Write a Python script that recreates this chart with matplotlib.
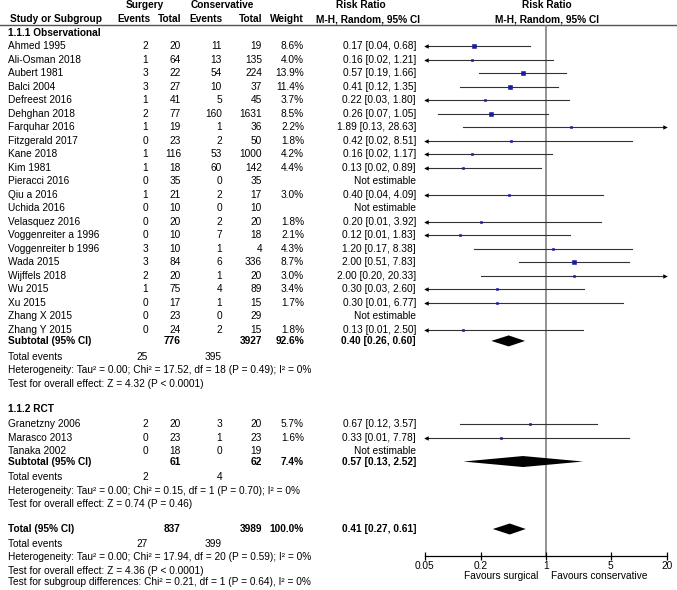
import numpy as np
import matplotlib
matplotlib.use('Agg')
import matplotlib.pyplot as plt
from matplotlib.ticker import NullLocator

plt.rcParams['font.family'] = ['Liberation Sans', 'DejaVu Sans']
FS = 7.3

# ---- data: 1.1.1 Observational
obs_names = ['Ahmed 1995', 'Ali-Osman 2018', 'Aubert 1981', 'Balci 2004', 'Defreest 2016',
             'Dehghan 2018', 'Farquhar 2016', 'Fitzgerald 2017', 'Kane 2018', 'Kim 1981',
             'Pieracci 2016', 'Qiu a 2016', 'Uchida 2016', 'Velasquez 2016',
             'Voggenreiter a 1996', 'Voggenreiter b 1996', 'Wada 2015', 'Wijffels 2018',
             'Wu 2015', 'Xu 2015', 'Zhang X 2015', 'Zhang Y 2015']
obs_ev_s = [2, 1, 3, 3, 1, 2, 1, 0, 1, 1, 0, 1, 0, 0, 0, 3, 3, 2, 1, 0, 0, 0]
obs_tot_s = [20, 64, 22, 27, 41, 77, 19, 23, 116, 18, 35, 21, 10, 20, 10, 10, 84, 20, 75, 17, 23, 24]
obs_ev_c = [11, 13, 54, 10, 5, 160, 1, 2, 53, 60, 0, 2, 0, 2, 7, 1, 6, 1, 4, 1, 0, 2]
obs_tot_c = [19, 135, 224, 37, 45, 1631, 36, 50, 1000, 142, 35, 17, 10, 20, 18, 4, 336, 20, 89, 15, 29, 15]
nan = np.nan
obs_w = [8.6, 4.0, 13.9, 11.4, 3.7, 8.5, 2.2, 1.8, 4.2, 4.4, nan, 3.0, nan, 1.8, 2.1, 4.3, 8.7, 3.0, 3.4, 1.7, nan, 1.8]
obs_rr = [0.17, 0.16, 0.57, 0.41, 0.22, 0.26, 1.89, 0.42, 0.16, 0.13, nan, 0.40, nan, 0.20, 0.12, 1.20, 2.00, 2.00, 0.30, 0.30, nan, 0.13]
obs_lo = [0.04, 0.02, 0.19, 0.12, 0.03, 0.07, 0.13, 0.02, 0.02, 0.02, nan, 0.04, nan, 0.01, 0.01, 0.17, 0.51, 0.20, 0.03, 0.01, nan, 0.01]
obs_hi = [0.68, 1.21, 1.66, 1.35, 1.80, 1.05, 28.63, 8.51, 1.17, 0.89, nan, 4.09, nan, 3.92, 1.83, 8.38, 7.83, 20.33, 2.60, 6.77, nan, 2.50]
obs_sub = [0.40, 0.26, 0.60]
obs_totals = [776, 3927, 92.6]
obs_events = [25, 395]
obs_het = 'Heterogeneity: Tau² = 0.00; Chi² = 17.52, df = 18 (P = 0.49); I² = 0%'
obs_test = 'Test for overall effect: Z = 4.32 (P < 0.0001)'

# ---- data: 1.1.2 RCT
rct_names = ['Granetzny 2006', 'Marasco 2013', 'Tanaka 2002']
rct_ev_s = [2, 0, 0]
rct_tot_s = [20, 23, 18]
rct_ev_c = [3, 1, 0]
rct_tot_c = [20, 23, 19]
rct_w = [5.7, 1.6, nan]
rct_rr = [0.67, 0.33, nan]
rct_lo = [0.12, 0.01, nan]
rct_hi = [3.57, 7.78, nan]
rct_sub = [0.57, 0.13, 2.52]
rct_totals = [61, 62, 7.4]
rct_events = [2, 4]
rct_het = 'Heterogeneity: Tau² = 0.00; Chi² = 0.15, df = 1 (P = 0.70); I² = 0%'
rct_test = 'Test for overall effect: Z = 0.74 (P = 0.46)'

# ---- overall
all_sum = [0.41, 0.27, 0.61]
all_totals = [837, 3989, 100.0]
all_events = [27, 399]
all_het = 'Heterogeneity: Tau² = 0.00; Chi² = 17.94, df = 20 (P = 0.59); I² = 0%'
all_test = 'Test for overall effect: Z = 4.36 (P < 0.0001)'
sub_diff = 'Test for subgroup differences: Chi² = 0.21, df = 1 (P = 0.64), I² = 0%'

ticks = [0.05, 0.2, 1, 5, 20]
tick_labels = ['0.05', '0.2', '1', '5', '20']

# ---- layout (pixels)
W, H = 677, 590
LINE_Y = 24.5
AXIS_Y = 555.7
X0, X1 = 424.7, 666.7
STEP = 13.52
C_NAME, C_EV_S, C_TOT_S, C_EV_C, C_TOT_C, C_W, C_RR = 8, 148, 181, 222, 262, 304, 416
CI_COL = '#333333'
SQ_COL = '#1a1aa6'

fig = plt.figure(figsize=(W / 100, H / 100), dpi=100)
tx = fig.add_axes([0, 0, 1, 1])
tx.set_xlim(0, W)
tx.set_ylim(H, 0)
tx.axis('off')

fx = fig.add_axes([X0 / W, 1 - AXIS_Y / H, (X1 - X0) / W, (AXIS_Y - LINE_Y) / H])
fx.patch.set_alpha(0)
fx.set_xscale('log')
fx.set_xlim(ticks[0], ticks[-1])
fx.set_ylim(AXIS_Y, LINE_Y)
for s in ['top', 'left', 'right']:
    fx.spines[s].set_visible(False)
fx.spines['bottom'].set_linewidth(0.9)
fx.set_yticks([])
fx.set_xticks(ticks)
fx.set_xticklabels(tick_labels)
fx.xaxis.set_minor_locator(NullLocator())
fx.tick_params(axis='x', direction='inout', length=6, width=0.9, labelsize=FS, pad=1)
fx.axvline(1, color='#808080', lw=1.2, zorder=0)


def txt(x, y, s, ha='left', bold=False):
    tx.text(x, y, s, ha=ha, va='center', fontsize=FS,
            fontweight='bold' if bold else 'normal')


# header
txt(145, 5, 'Surgery', 'center', True)
txt(222, 5, 'Conservative', 'center', True)
txt(361, 5, 'Risk Ratio', 'center', True)
txt(547, 5, 'Risk Ratio', 'center', True)
txt(10, 19, 'Study or Subgroup', bold=True)
txt(150, 19, 'Events', 'right', True)
txt(181, 19, 'Total', 'right', True)
txt(223, 19, 'Events', 'right', True)
txt(262, 19, 'Total', 'right', True)
txt(304, 19, 'Weight', 'right', True)
txt(368, 19, 'M-H, Random, 95% CI', 'center', True)
txt(547, 19, 'M-H, Random, 95% CI', 'center', True)
tx.plot([0, W], [LINE_Y, LINE_Y], color='#555555', lw=1.0)


def study_rows(y0, names, ev_s, tot_s, ev_c, tot_c, w, rr, lo, hi):
    lo_lim, hi_lim = ticks[0], ticks[-1]
    for i, name in enumerate(names):
        y = y0 + i * STEP
        txt(C_NAME, y, name)
        txt(C_EV_S, y, str(ev_s[i]), 'right')
        txt(C_TOT_S, y, str(tot_s[i]), 'right')
        txt(C_EV_C, y, str(ev_c[i]), 'right')
        txt(C_TOT_C, y, str(tot_c[i]), 'right')
        if np.isnan(rr[i]):
            txt(C_RR, y, 'Not estimable', 'right')
            continue
        txt(C_W, y, f'{w[i]:.1f}%', 'right')
        txt(C_RR, y, f'{rr[i]:.2f} [{lo[i]:.2f}, {hi[i]:.2f}]', 'right')
        a, b = max(lo[i], lo_lim), min(hi[i], hi_lim)
        fx.plot([a, b], [y, y], color=CI_COL, lw=0.8)
        if lo[i] < lo_lim:
            fx.plot(lo_lim * 1.04, y, marker='<', ms=3.2, color='black', mew=0, clip_on=False)
        if hi[i] > hi_lim:
            fx.plot(hi_lim / 1.04, y, marker='>', ms=3.2, color='black', mew=0, clip_on=False)
        side_px = 1.4 + 0.6 * np.sqrt(w[i])
        fx.plot(rr[i], y, marker='s', ms=side_px * 0.72, color=SQ_COL,
                mec=SQ_COL, mew=0.4, zorder=3)
    return y0 + (len(names) - 1) * STEP


def diamond(y, est, half=5.5):
    fx.fill([est[1], est[0], est[2], est[0]], [y, y - half, y, y + half],
            color='black', lw=0, zorder=3)


def summary(y, label, totals, est):
    txt(C_NAME, y, label, bold=True)
    txt(C_TOT_S, y, str(totals[0]), 'right', True)
    txt(C_TOT_C, y, str(totals[1]), 'right', True)
    txt(C_W, y, f'{totals[2]:.1f}%', 'right', True)
    txt(C_RR, y, f'{est[0]:.2f} [{est[1]:.2f}, {est[2]:.2f}]', 'right', True)
    diamond(y, est)


def footer(y, events, het, test):
    txt(C_NAME, y, 'Total events')
    txt(C_EV_S, y, str(events[0]), 'right')
    txt(C_EV_C, y, str(events[1]), 'right')
    txt(C_NAME, y + 13.5, het)
    txt(C_NAME, y + 27, test)


# group 1
txt(C_NAME, 33, '1.1.1 Observational', bold=True)
last = study_rows(46, obs_names, obs_ev_s, obs_tot_s, obs_ev_c, obs_tot_c,
                  obs_w, obs_rr, obs_lo, obs_hi)
summary(last + 11, 'Subtotal (95% CI)', obs_totals, obs_sub)
footer(last + 27, obs_events, obs_het, obs_test)

# group 2
txt(C_NAME, 409, '1.1.2 RCT', bold=True)
last = study_rows(424, rct_names, rct_ev_s, rct_tot_s, rct_ev_c, rct_tot_c,
                  rct_w, rct_rr, rct_lo, rct_hi)
summary(last + 10.5, 'Subtotal (95% CI)', rct_totals, rct_sub)
footer(last + 26, rct_events, rct_het, rct_test)

# overall
summary(529, 'Total (95% CI)', all_totals, all_sum)
footer(544, all_events, all_het, all_test)
txt(C_NAME, 582, sub_diff)

txt(538, 576, 'Favours surgical', 'right')
txt(551, 576, 'Favours conservative', 'left')

fig.savefig('out.png', dpi=100)
